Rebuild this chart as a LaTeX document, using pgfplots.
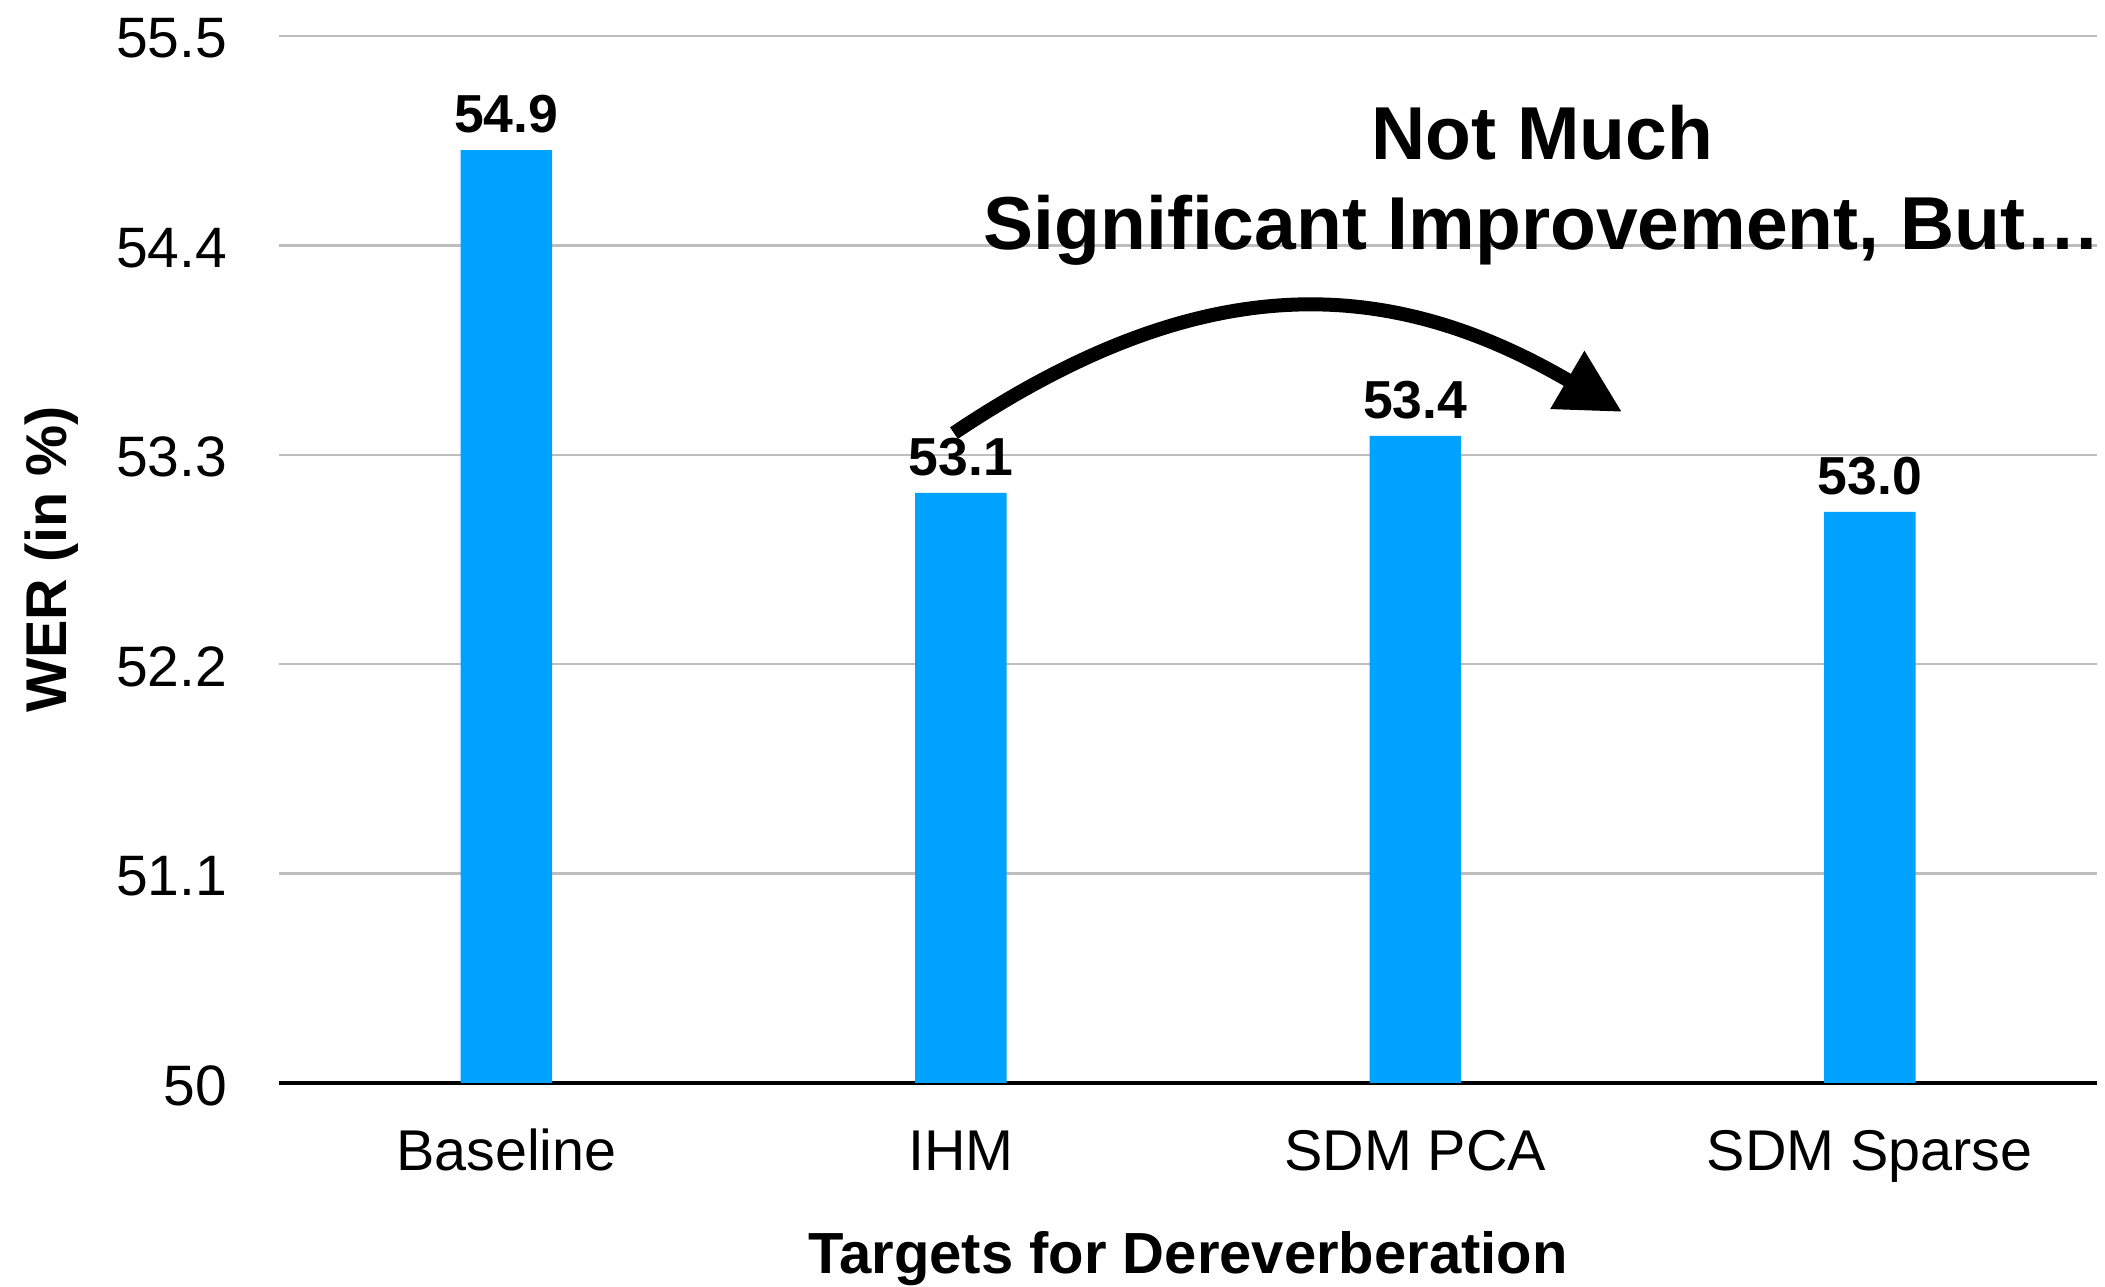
\documentclass[border=0pt]{standalone}
\usepackage{pgfplots}
\pgfplotsset{compat=1.18}
\usetikzlibrary{arrows.meta}
\usepackage{fontspec}
\setmainfont{Liberation Sans}
\definecolor{barblue}{RGB}{0,162,255}
\definecolor{gridgray}{RGB}{190,190,190}
\begin{document}
\begin{tikzpicture}
\begin{axis}[
  scale only axis,
  width=363.6pt, height=209.4pt,
  ybar, bar width=18.3pt,
  xmin=-0.5, xmax=3.5,
  ymin=50, ymax=55.5,
  xtick={0,1,2,3},
  xticklabels={Baseline,IHM,SDM PCA,SDM Sparse},
  ytick={50,51.1,52.2,53.3,54.4,55.5},
  yticklabels={50,51.1,52.2,53.3,54.4,55.5},
  /pgf/number format/assume math mode=true,
  major tick length=0pt,
  axis lines*=left,
  y axis line style={draw=none},
  x axis line style={black, line width=0.7pt},
  ymajorgrids,
  grid style={gridgray, line width=0.45pt},
  clip mode=individual,
  xticklabel style={font=\fontsize{11.5}{13}\selectfont, anchor=base, inner sep=0pt, yshift=-17.6pt},
  yticklabel style={font=\fontsize{11.4}{13}\selectfont, anchor=east, inner sep=0pt, xshift=-10.2pt, yshift=-0.5pt},
  xlabel={Targets for Dereverberation},
  xlabel style={font=\bfseries\fontsize{11.6}{13}\selectfont, at={(axis description cs:0.5,0)}, anchor=base, inner sep=0pt, yshift=-38.2pt},
  ylabel={WER (in \%)},
  ylabel style={font=\bfseries\fontsize{11.5}{13}\selectfont, at={(axis description cs:0,0.5)}, anchor=center, inner sep=0pt, yshift=45.4pt},
  nodes near coords={\bfseries\pgfmathprintnumber[fixed,fixed zerofill,precision=1]{\pgfplotspointmeta}},
  every node near coord/.append style={font=\bfseries\fontsize{10.7}{12}\selectfont, anchor=south, inner sep=0pt, yshift=3.2pt, black},
]
\addplot[fill=barblue, draw=none] coordinates {(0,54.9) (1,53.1) (2,53.4) (3,53.0)};
\draw[line width=2.8pt, -{Triangle[length=12.7pt,width=12.7pt]}]
  (axis cs:0.985,53.414) .. controls (axis cs:1.52,54.27) and (axis cs:1.93,54.26) .. (axis cs:2.455,53.525);
\node[font=\bfseries\fontsize{15}{18}\selectfont, anchor=base, inner sep=0pt] at (axis cs:2.279,54.849) {Not Much};
\node[font=\bfseries\fontsize{15}{18}\selectfont, anchor=base, inner sep=0pt] at (axis cs:2.279,54.376) {Significant Improvement, But…};
\path (rel axis cs:-0.1535,-0.193) rectangle (rel axis cs:1.0044,1.0344);
\end{axis}
\end{tikzpicture}
\end{document}
